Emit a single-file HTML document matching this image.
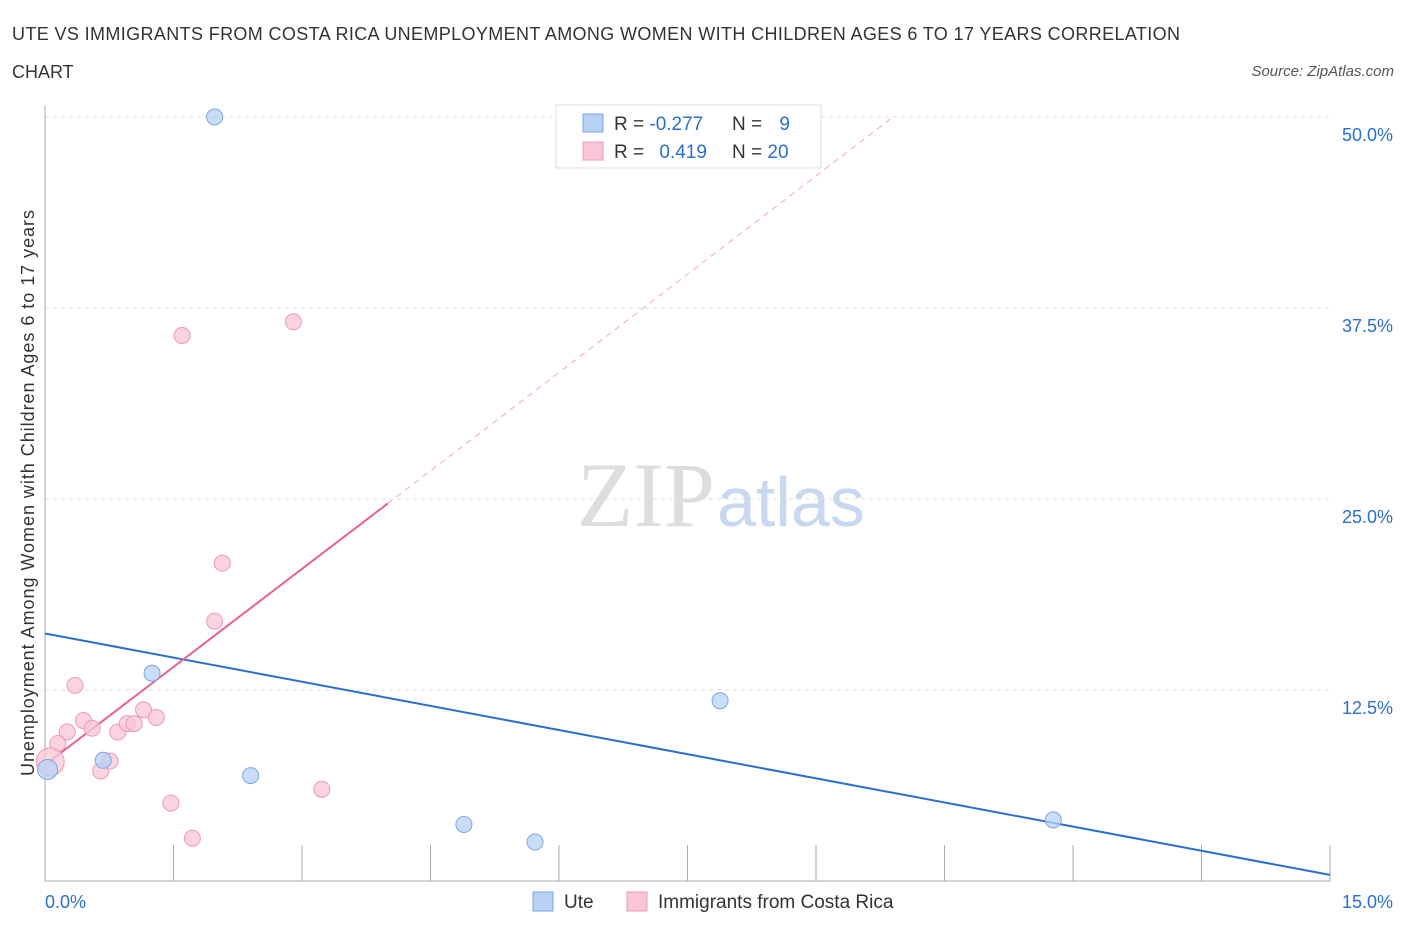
<!DOCTYPE html>
<html><head><meta charset="utf-8"><style>
body{margin:0;background:#fff;font-family:"Liberation Sans",sans-serif;}
svg{display:block}
</style></head><body>
<svg width="1406" height="930" xmlns="http://www.w3.org/2000/svg">
<text x="12" y="40" font-size="18" fill="#333" textLength="1168">UTE VS IMMIGRANTS FROM COSTA RICA UNEMPLOYMENT AMONG WOMEN WITH CHILDREN AGES 6 TO 17 YEARS CORRELATION</text>
<text x="12" y="78" font-size="18" fill="#333">CHART</text>
<text x="1394" y="76" font-size="15" fill="#555" font-style="italic" text-anchor="end">Source: ZipAtlas.com</text>
<text x="715" y="526" font-size="92" fill="#ddd" font-family="Liberation Serif,serif" text-anchor="end">ZIP</text>
<text x="717" y="526" font-size="70" fill="#c8d8ee">atlas</text>
<g id="grid"></g>
<g id="axes"></g>
<text transform="translate(34,493) rotate(-90)" font-size="18" fill="#333" text-anchor="middle" textLength="566">Unemployment Among Women with Children Ages 6 to 17 years</text>
<g id="lines"></g>
<g id="points"></g>
<g>
<rect x="556" y="105" width="265" height="63" fill="#fff" stroke="#ddd"/>
<rect x="583" y="114" width="20" height="18" fill="#b8d2f5" stroke="#7aa6e6"/>
<rect x="583" y="142" width="20" height="18" fill="#f9c6d6" stroke="#ee9ab5"/>
<text x="614" y="130" font-size="19" fill="#333">R = <tspan fill="#2a6fcf">-0.277</tspan></text>
<text x="732" y="130" font-size="19" fill="#333">N = <tspan fill="#2a6fcf" dx="12">9</tspan></text>
<text x="614" y="158" font-size="19" fill="#333">R = <tspan fill="#2a6fcf" dx="10">0.419</tspan></text>
<text x="732" y="158" font-size="19" fill="#333">N = <tspan fill="#2a6fcf">20</tspan></text>
</g>
<g>
<rect x="533" y="892" width="20" height="19" fill="#b8d2f5" stroke="#7aa6e6"/>
<text x="564" y="908" font-size="19" fill="#333">Ute</text>
<rect x="627" y="892" width="20" height="19" fill="#f9c6d6" stroke="#ee9ab5"/>
<text x="658" y="908" font-size="19" fill="#333">Immigrants from Costa Rica</text>
</g>
</svg>
<script>
const uteX=[1.98,1.25,0.68,0.03,2.4,4.89,5.72,7.88,11.77];
const uteY=[50,13.6,7.9,7.3,6.9,3.7,2.55,11.8,4.0];
const crX=[1.6,2.9,2.07,1.98,0.35,0.45,0.26,0.55,0.85,0.96,1.04,1.15,1.3,0.15,0.06,0.65,0.76,1.47,1.72,3.23];
const crY=[35.7,36.6,20.8,17.0,12.8,10.5,9.75,10.0,9.75,10.3,10.3,11.2,10.7,9.0,7.8,7.2,7.85,5.1,2.8,6.0];
const yTicks=[12.5,25,37.5,50];
const yTickLabels=["12.5%","25.0%","37.5%","50.0%"];
const uteTrend=[[0,16.2],[15,0.4]];
const crTrend=[[0,7.6],[4.0,24.7]];
const crTrendExt=[[4.0,24.7],[9.9,50]];
const NS="http://www.w3.org/2000/svg";
const sx=v=>45+v*(1285/15), sy=v=>881-v*(764/50);
function mk(tag,attrs,parent){const e=document.createElementNS(NS,tag);for(const k in attrs)e.setAttribute(k,attrs[k]);document.getElementById(parent).appendChild(e);return e;}
yTicks.forEach((t,i)=>{
 const l=mk('line',{x1:45,x2:1330,y1:sy(t),y2:sy(t),stroke:'#ddd','stroke-dasharray':'4,4'},'grid');
 
 
 const tx=mk('text',{x:1393,y:sy(t)+24,'font-size':18,fill:'#2a6fcf','text-anchor':'end'},'grid');
 tx.textContent=yTickLabels[i];
 
 
});
const ax=mk('line',{x1:45,x2:45,y1:105,y2:881,stroke:'#aaa'},'axes');


const bx=mk('line',{x1:45,x2:1330,y1:881,y2:881,stroke:'#aaa'},'axes');


for(let i=1;i<=10;i++){const t=mk('line',{x1:sx(i*1.5),x2:sx(i*1.5),y1:845,y2:881,stroke:'#aaa'},'axes');
 
 }
const xl=mk('text',{x:45,y:908,'font-size':18,fill:'#2a6fcf'},'axes');xl.textContent='0.0%';


const xr=mk('text',{x:1393,y:908,'font-size':18,fill:'#2a6fcf','text-anchor':'end'},'axes');xr.textContent='15.0%';


function line(p,stroke,w,dash,name){const l=mk('line',{x1:sx(p[0][0]),y1:sy(p[0][1]),x2:sx(p[1][0]),y2:sy(p[1][1]),stroke:stroke,'stroke-width':w},'lines');if(dash)l.setAttribute('stroke-dasharray',dash);
 
 }
line(crTrendExt,'#eeaabf',1,'6,5','costa-rica-trend-extension');
line(uteTrend,'#2a6fcf',2,null,'ute-trend-line');
line(crTrend,'#e8608e',2,null,'costa-rica-trend-line');
crX.forEach((x,i)=>{const c=mk('circle',{cx:sx(x),cy:sy(crY[i]),r:(i==14?14:8),fill:'#f9c6d6','fill-opacity':0.75,stroke:'#ee9ab5'},'points');
 
 });
uteX.forEach((x,i)=>{const c=mk('circle',{cx:sx(x),cy:sy(uteY[i]),r:(i==3?10:8),fill:'#b8d2f5','fill-opacity':0.75,stroke:'#7aa6e6'},'points');
 
 });
</script>
</body></html>
